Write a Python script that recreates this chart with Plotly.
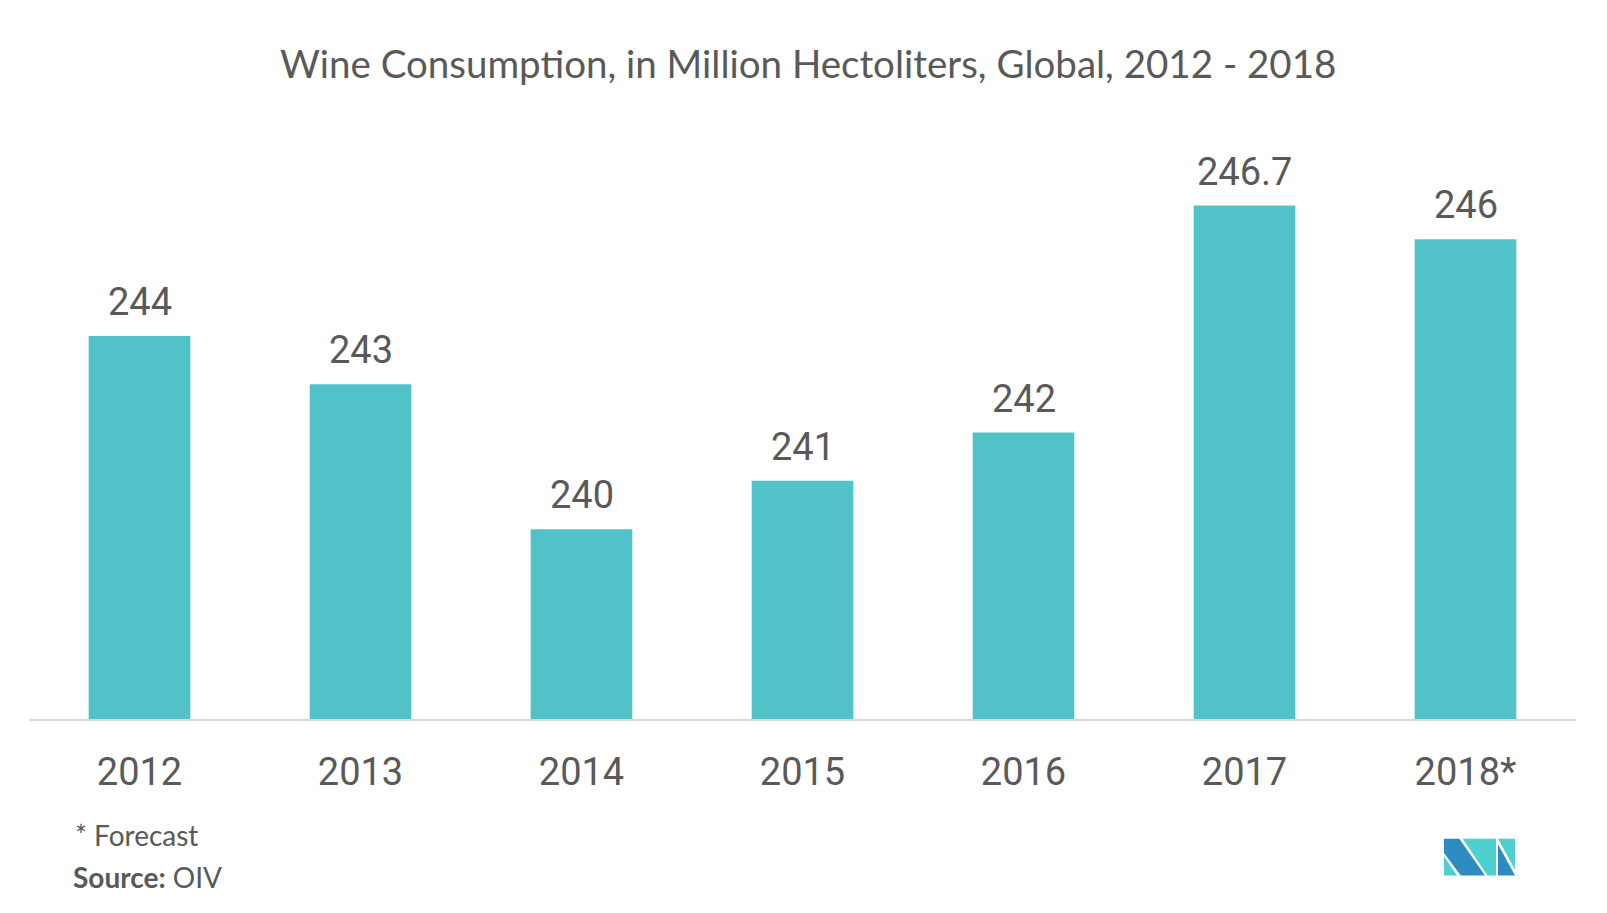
import plotly.graph_objects as go

years = ["2012", "2013", "2014", "2015", "2016", "2017", "2018*"]
consumption = [244, 243, 240, 241, 242, 246.7, 246]
value_labels = ["244", "243", "240", "241", "242", "246.7", "246"]

W, H = 1607, 913
OFF = 8  # default page body margin
# plot area in page pixels
left_pg, right_pg, top_pg, base_pg = 29, 1576, 150, 718.7
ml = left_pg - OFF
mr = W - (right_pg - OFF)
mt = top_pg - OFF
mb = H - (base_pg - OFF)

fig = go.Figure()
fig.add_trace(go.Bar(
    x=years, y=consumption,
    marker=dict(color="#51c3c8", line=dict(width=0)),
    width=0.46,
    hoverinfo="x+y",
))

for i, (y, t) in enumerate(zip(consumption, value_labels)):
    fig.add_annotation(x=i, y=y, text=t, showarrow=False, yanchor="bottom",
                       yshift=10, font=dict(family="Roboto", size=38, color="#595959"))

def py(pix):
    return (H - (pix - OFF) - mb) / (H - mt - mb)

def px(pix):
    return ((pix - OFF) - ml) / (W - ml - mr)

fig.add_annotation(xref="paper", yref="paper", x=px(808), y=py(63.5), yanchor="middle",
                   text="Wine Consumption, in Million Hectoliters, Global, 2012 - 2018",
                   showarrow=False, font=dict(family="Lato", size=38.5, color="#595959"))

fig.add_annotation(xref="paper", yref="paper", x=px(73), y=py(835), xanchor="left", yanchor="middle",
                   text="* Forecast", showarrow=False,
                   font=dict(family="Lato", size=28, color="#595959"))
fig.add_annotation(xref="paper", yref="paper", x=px(71), y=py(877), xanchor="left", yanchor="middle",
                   text="<b>Source:</b> OIV", showarrow=False,
                   font=dict(family="Lato", size=28, color="#595959"))

fig.update_layout(
    width=W, height=H,
    margin=dict(l=ml, r=mr, t=mt, b=mb, autoexpand=False),
    paper_bgcolor="white", plot_bgcolor="white",
    showlegend=False,
    bargap=0.54,
    xaxis=dict(type="category", range=[-0.5, len(years) - 0.5],
               showline=True, linecolor="#d9d9d9", linewidth=2, showgrid=False,
               ticks="", ticklabelstandoff=18, automargin=False,
               tickfont=dict(family="Roboto", size=38, color="#595959")),
    yaxis=dict(range=[236.07, 247.85], visible=False, showgrid=False, zeroline=False),
)

# Logo (decorative)
def pth(points):
    return "M " + " L ".join(f"{px(a)},{py(b)}" for a, b in points) + " Z"

dark = "#2e8bc0"
light = "#4ecfd0"
logo = [
    ([(1444, 838.3), (1459.3, 838.3), (1485, 875), (1460.7, 875), (1444, 852.7)], dark),
    ([(1444, 856), (1444, 875), (1457, 875)], light),
    ([(1462.7, 838.3), (1496, 838.3), (1496, 875), (1487.5, 875)], light),
    ([(1498, 838.3), (1515, 838.3), (1515, 869)], light),
    ([(1498, 844), (1515, 875), (1498, 875)], dark),
]
for pts, col in logo:
    fig.add_shape(type="path", xref="paper", yref="paper", path=pth(pts),
                  fillcolor=col, line=dict(width=0))

fig.write_html("out.html")
